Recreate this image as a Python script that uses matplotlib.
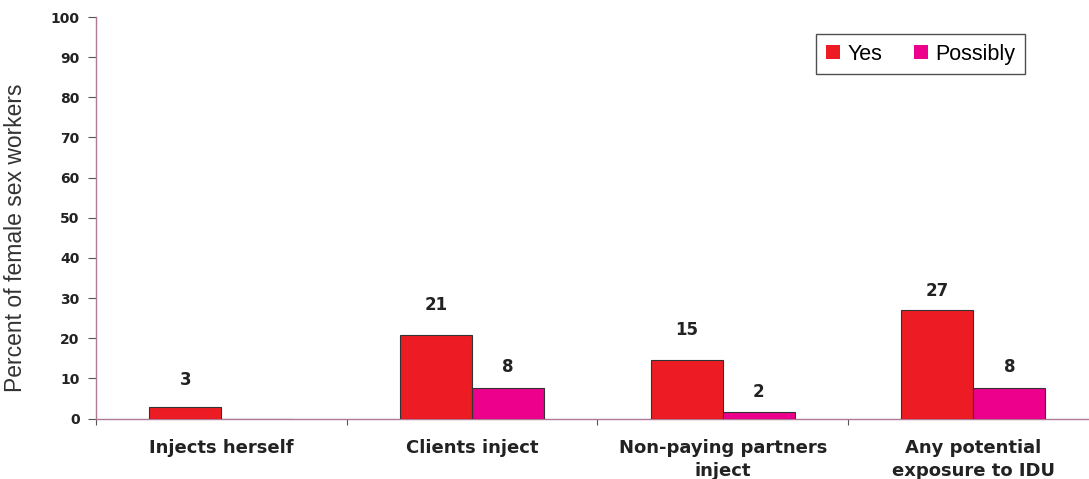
import matplotlib
matplotlib.use("Agg")
import matplotlib.pyplot as plt
import numpy as np

categories = ["Injects herself", "Clients inject", "Non-paying partners\ninject",
              "Any potential\nexposure to IDU"]
yes_values = [2.9, 20.8, 14.5, 26.9]
possibly_values = [0.0, 7.7, 1.7, 7.7]
yes_labels = ["3", "21", "15", "27"]
possibly_labels = ["", "8", "2", "8"]
series_names = ["Yes", "Possibly"]
yticks = list(range(0, 101, 10))

# styling
yes_color = "#ED1C24"
pos_color = "#EC008C"
spine_color = "#b07a95"
yes_label_offset_px = [27, 30, 30, 19]
pos_label_offset_px = [21, 21, 20, 21]

DPI = 100
fig = plt.figure(figsize=(10.89, 4.79), dpi=DPI)
ax = fig.add_axes([96 / 1089, 60.5 / 479, 1002.8 / 1089, 401.5 / 479])

x = np.arange(len(categories))
w = 0.287
b1 = ax.bar(x - w / 2, yes_values, width=w, color=yes_color, edgecolor="#333333",
            linewidth=0.8, label=series_names[0], zorder=3)
b2 = ax.bar(x + w / 2, possibly_values, width=w, color=pos_color, edgecolor="#333333",
            linewidth=0.8, label=series_names[1], zorder=3)

px2pt = 72.0 / DPI
for rect, lab, off in zip(b1, yes_labels, yes_label_offset_px):
    if lab:
        ax.annotate(lab, (rect.get_x() + rect.get_width() / 2, rect.get_height()),
                    xytext=(0, off * px2pt), textcoords="offset points",
                    ha="center", va="center", fontsize=12, fontweight="bold",
                    family="DejaVu Sans", color="#222222")
for rect, lab, off in zip(b2, possibly_labels, pos_label_offset_px):
    if lab:
        ax.annotate(lab, (rect.get_x() + rect.get_width() / 2, rect.get_height()),
                    xytext=(0, off * px2pt), textcoords="offset points",
                    ha="center", va="center", fontsize=12, fontweight="bold",
                    family="DejaVu Sans", color="#222222")

ax.set_xlim(-0.5, len(categories) - 0.5)
ax.set_ylim(0, 100)
ax.set_yticks(yticks)
ax.set_yticklabels([str(t) for t in yticks], fontsize=10, fontweight="bold",
                   family="DejaVu Sans", color="#222222")
ax.tick_params(axis="y", direction="out", length=5.8, width=0.8, color="#555555", pad=6)

ax.set_xticks(x)
ax.set_xticklabels(categories, fontsize=13, fontweight="bold", family="DejaVu Sans",
                   color="#222222", linespacing=1.3)
ax.tick_params(axis="x", which="major", length=0, pad=15)
ax.set_xticks(np.arange(-0.5, len(categories), 1.0), minor=True)
ax.tick_params(axis="x", which="minor", direction="out", length=4, width=0.8, color="#555555")

for s in ["top", "right"]:
    ax.spines[s].set_visible(False)
for s in ["left", "bottom"]:
    ax.spines[s].set_color(spine_color)
    ax.spines[s].set_linewidth(1.0)

ax.set_ylabel("Percent of female sex workers", fontsize=16.5, family="Liberation Sans",
              color="#333333")
ax.yaxis.set_label_coords(-0.069, 0.45)

leg = fig.legend(handles=[b1, b2], labels=series_names, loc="upper left",
                 bbox_to_anchor=(816 / 1089, 1 - 34 / 479), ncol=2,
                 prop={"family": "Liberation Sans", "size": 15.5},
                 frameon=True, fancybox=False, shadow=False,
                 handlelength=0.65, handleheight=0.65, handletextpad=0.37,
                 columnspacing=1.45, borderpad=0.45, borderaxespad=0)
leg.get_frame().set_edgecolor("#222222")
leg.get_frame().set_linewidth(1.0)
for h in leg.legend_handles:
    h.set_edgecolor("none")

fig.savefig("out.png", dpi=DPI)
